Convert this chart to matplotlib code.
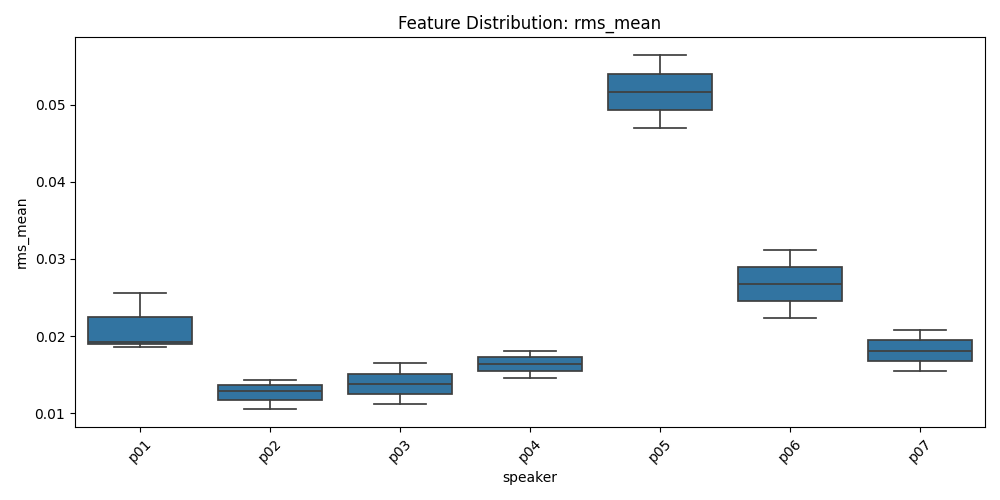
import matplotlib.pyplot as plt

# box stats (whislo, q1, median, q3, whishi)
speakers = ['p01', 'p02', 'p03', 'p04', 'p05', 'p06', 'p07']
whislo = [0.01854, 0.01056, 0.01117, 0.01453, 0.04702, 0.0223, 0.01544]
q1 = [0.01897, 0.01172, 0.01246, 0.01544, 0.04935, 0.0245, 0.01673]
med = [0.01927, 0.01289, 0.01379, 0.01638, 0.05168, 0.0267, 0.01803]
q3 = [0.02243, 0.01362, 0.01505, 0.01725, 0.05401, 0.0289, 0.01945]
whishi = [0.02553, 0.01431, 0.01651, 0.01803, 0.05638, 0.0311, 0.02074]

stats = [dict(label=s, whislo=a, q1=b, med=c, q3=d, whishi=e, fliers=[])
         for s, a, b, c, d, e in zip(speakers, whislo, q1, med, q3, whishi)]

fig, ax = plt.subplots(figsize=(10, 5), dpi=100)
lc = '#3f3f3f'
ax.bxp(stats, positions=range(len(speakers)), widths=0.8, patch_artist=True,
       boxprops=dict(facecolor='#3274a1', edgecolor=lc, linewidth=1.25),
       medianprops=dict(color=lc, linewidth=1.25),
       whiskerprops=dict(color=lc, linewidth=1.25),
       capprops=dict(color=lc, linewidth=1.25),
       capwidths=0.4)
ax.set_xlim(-0.5, len(speakers) - 0.5)
ax.set_ylim(0.00823, 0.0587)
ax.set_xticks(range(len(speakers)))
ax.set_xticklabels(speakers, rotation=45)
ax.set_yticks([0.01, 0.02, 0.03, 0.04, 0.05])
ax.set_xlabel('speaker')
ax.set_ylabel('rms_mean')
ax.set_title('Feature Distribution: rms_mean')
plt.tight_layout()
plt.savefig('out.png')
